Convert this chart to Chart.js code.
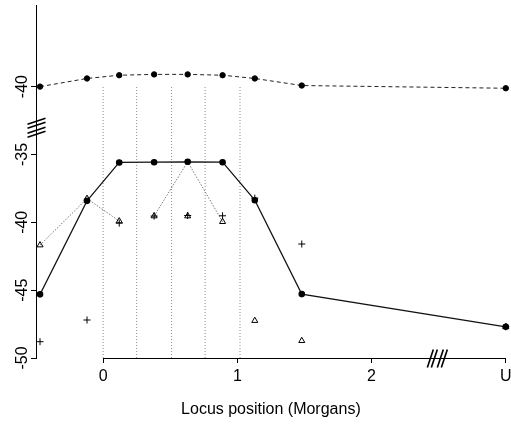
<!DOCTYPE html>
<html>
<head>
<meta charset="utf-8">
<script src="https://cdn.jsdelivr.net/npm/chart.js@4"></script>
<style>
  html, body { margin: 0; padding: 0; background: #fff; }
</style>
</head>
<body>
<canvas id="chart" width="511" height="424"></canvas>
<script>
// locus positions (Morgans); 3.0 is the "U" position past the axis break
const locusX = [-0.47, -0.12, 0.12, 0.38, 0.63, 0.89, 1.13, 1.48, 3.0];

// upper panel (above the y break), real values
const topLL = [-40.0, -39.4, -39.16, -39.1, -39.1, -39.16, -39.4, -39.92, -40.12];
// lower panel series
const midLL = [-45.31, -38.42, -35.59, -35.57, -35.54, -35.57, -38.37, -45.29, -47.7];
const triLL = [-41.68, -38.25, -39.91, -39.54, -39.54, -39.96, -47.25, -48.73, -47.7];
const plusLL = [-48.8, -47.2, -40.06, -39.54, -39.5, -39.52, -38.22, -41.6, -47.7];

// dotted connectors through the triangles
const dotAIdx = [0, 1, 2];
const dotALL = [-41.68, -38.25, -39.91];
const dotBIdx = [3, 4, 5];
const dotBLL = [-39.54, -35.54, -39.96];

// vertical dotted marker lines
const markerX = [0, 0.25, 0.51, 0.76, 1.02];

const topShift = 10;   // upper panel drawn 10 units higher
const yTicks = [-50, -45, -40, -35, -30];
const yTickLabels = ["-50", "-45", "-40", "-35", "-40"];
const xTicks = [0, 1, 2, 3];
const xTickLabels = ["0", "1", "2", "U"];
const xBreak = 2.49;
const yBreak = -33;

const FONT = "'Liberation Sans', Arial, sans-serif";

function pts(xs, ys) {
    return xs.map((x, i) => ({ x: x, y: ys[i] }));
}

/* ---------- datasets ---------- */

const datasets = [];

markerX.forEach(x => {
    datasets.push({
        data: [{ x: x, y: -50 }, { x: x, y: -30 }],
        showLine: true,
        borderColor: "#8a8a8a",
        borderWidth: 1,
        borderDash: [1, 2],
        pointRadius: 0,
        order: 10
    });
});

datasets.push({
    data: pts(locusX, topLL.map(v => v + topShift)),
    showLine: true,
    borderColor: "#222",
    borderWidth: 1,
    borderDash: [4, 3],
    pointRadius: 2.7,
    pointBackgroundColor: "#000",
    pointBorderColor: "#000",
    order: 1
});

datasets.push({
    data: pts(locusX, midLL),
    showLine: true,
    borderColor: "#111",
    borderWidth: 1.2,
    pointRadius: 2.7,
    pointBackgroundColor: "#000",
    pointBorderColor: "#000",
    order: 1
});

datasets.push({
    data: pts(dotAIdx.map(i => locusX[i]), dotALL),
    showLine: true,
    borderColor: "#777",
    borderWidth: 1,
    borderDash: [1.5, 1.5],
    pointRadius: 0,
    order: 5
});

datasets.push({
    data: pts(dotBIdx.map(i => locusX[i]), dotBLL),
    showLine: true,
    borderColor: "#777",
    borderWidth: 1,
    borderDash: [1.5, 1.5],
    pointRadius: 0,
    order: 5
});

datasets.push({
    data: pts(locusX, triLL),
    showLine: false,
    pointStyle: "triangle",
    pointRadius: 3.5,
    pointBorderWidth: 1,
    pointBackgroundColor: "rgba(255,255,255,0)",
    pointBorderColor: "#000",
    order: 2
});

datasets.push({
    data: pts(locusX, plusLL),
    showLine: false,
    pointStyle: "cross",
    pointRadius: 3.5,
    pointBorderWidth: 1,
    pointBorderColor: "#000",
    order: 2
});

datasets.forEach(d => { d.clip = false; });

/* ---------- axis line + break marks ---------- */

const axisExtras = {
    id: "axisExtras",
    afterDraw(chart) {
        const ctx = chart.ctx;
        const xs = chart.scales.x;
        const ys = chart.scales.y;
        const yb = Math.round(chart.chartArea.bottom) + 0.5;

        ctx.save();
        ctx.strokeStyle = "#000";
        ctx.lineWidth = 1;
        ctx.beginPath();
        ctx.moveTo(xs.getPixelForValue(0), yb);
        ctx.lineTo(xs.getPixelForValue(3), yb);
        ctx.stroke();

        // x axis break "//"
        const bx = xs.getPixelForValue(xBreak);
        ctx.lineWidth = 1.6;
        [-7, -3, 3, 7].forEach(o => {
            ctx.beginPath();
            ctx.moveTo(bx + o - 3, yb + 9);
            ctx.lineTo(bx + o + 3, yb - 9);
            ctx.stroke();
        });

        // y axis break
        const byp = ys.getPixelForValue(yBreak);
        const ax = Math.round(chart.chartArea.left) + 0.5;
        [-6, -2, 3, 7].forEach(o => {
            ctx.beginPath();
            ctx.moveTo(ax - 9, byp + o + 3);
            ctx.lineTo(ax + 9, byp + o - 3);
            ctx.stroke();
        });
        ctx.restore();
    }
};

/* ---------- chart ---------- */

new Chart(document.getElementById("chart"), {
    type: "scatter",
    data: { datasets: datasets },
    options: {
        responsive: false,
        animation: false,
        layout: { padding: { left: 0, right: 2, top: 5, bottom: 0 } },
        plugins: {
            legend: { display: false },
            tooltip: { enabled: false }
        },
        scales: {
            x: {
                type: "linear",
                min: -0.5,
                max: 3,
                afterBuildTicks: s => { s.ticks = xTicks.map(v => ({ value: v })); },
                afterFit: s => {
                    s.height = 66;
                    s.paddingLeft = 0; s.paddingRight = 0;
                    s.paddingTop = 0; s.paddingBottom = 0;
                },
                border: { display: false },
                grid: {
                    drawOnChartArea: false,
                    drawTicks: true,
                    tickLength: 5,
                    color: "#000",
                    tickColor: "#000"
                },
                ticks: {
                    padding: 4,
                    color: "#000",
                    font: { family: FONT, size: 16 },
                    maxRotation: 0,
                    callback: v => xTickLabels[xTicks.indexOf(v)]
                },
                title: {
                    display: true,
                    text: "Locus position (Morgans)",
                    color: "#000",
                    font: { family: FONT, size: 16 },
                    padding: { top: 0, bottom: 5 }
                }
            },
            y: {
                type: "linear",
                min: -50,
                max: -24,
                afterBuildTicks: s => { s.ticks = yTicks.map(v => ({ value: v })); },
                afterFit: s => {
                    s.width = 36;
                    s.paddingLeft = 0; s.paddingRight = 0;
                    s.paddingTop = 0; s.paddingBottom = 0;
                },
                border: { display: true, color: "#000", width: 1 },
                grid: {
                    drawOnChartArea: false,
                    drawTicks: true,
                    tickLength: 5,
                    color: "#000",
                    tickColor: "#000"
                },
                ticks: {
                    padding: -3,
                    color: "#000",
                    minRotation: 90,
                    maxRotation: 90,
                    crossAlign: "center",
                    font: { family: FONT, size: 16 },
                    callback: v => yTickLabels[yTicks.indexOf(v)]
                }
            }
        }
    },
    plugins: [axisExtras]
});
</script>
</body>
</html>
